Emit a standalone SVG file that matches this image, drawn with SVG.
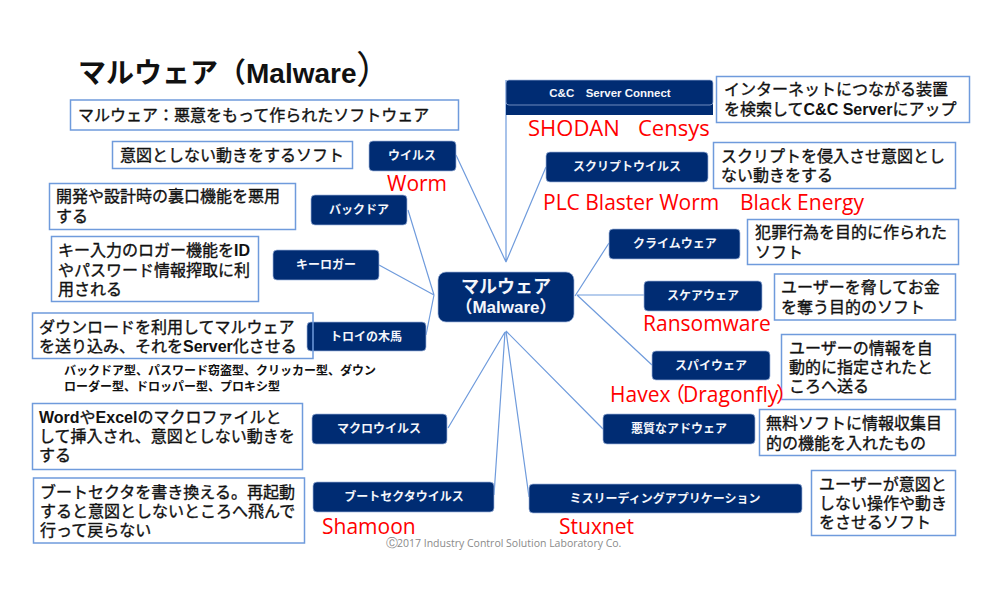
<svg xmlns="http://www.w3.org/2000/svg" width="1000" height="600" viewBox="0 0 1000 600">
<style>
text{font-family:"Liberation Sans","Noto Sans CJK JP",sans-serif}
.box{fill:#fff;stroke:#6f9bdc;stroke-width:1.5}
.t{font-size:16px;fill:#111;stroke:#111;stroke-width:.35}
.t tspan{font-weight:700;stroke:none}
.t2{font-size:12px;font-weight:700;fill:#111}
.n{fill:#002c73;stroke:#9db5dd;stroke-width:.7}
.nt{font-size:12px;font-weight:700;fill:#f4f6fb;text-anchor:middle}
.r{font-family:"Open Sans","DejaVu Sans","Noto Sans CJK JP",sans-serif;font-size:21px;fill:#f00}
.c{fill:none;stroke:#6f9bdc;stroke-width:1.2}
</style>
<rect width="1000" height="600" fill="#fff"/>
<g id="title"><text x="78" y="83" font-size="28" font-weight="700" fill="#111">マルウェア（Malware<tspan x="356" y="83" font-size="38" font-weight="400">）</tspan></text></g>
<g id="connectors">
<path class="c" d="M456 155L506 262M506 80V262M546 167L506 262"/>
<path class="c" d="M408 210L434 295M379 265L434 295M426 335L434 295"/>
<path class="c" d="M609 243L575 296M644 295H577M652 365L577 295"/>
<path class="c" d="M448 428L505 332M494 495L505 332M529 497L506 331M603 429L506 331"/>
</g>
<g id="definition"><rect class="box" x="70.500" y="100" width="388" height="30"/><text class="t" x="78" y="121">マルウェア：悪意をもって作られたソフトウェア</text></g>
<g id="center"><rect class="n" x="438" y="272" width="136" height="50" rx="8"/><text x="506" y="293" font-size="18" font-weight="700" fill="#f4f6fb" text-anchor="middle">マルウェア</text><text x="506" y="313" font-size="17" font-weight="700" fill="#f4f6fb" text-anchor="middle">（Malware）</text></g>
<g id="virus"><rect class="n" x="369" y="141" width="87" height="30" rx="4"/><text class="nt" x="412" y="160">ウイルス</text>
<rect class="box" x="112.500" y="141.500" width="240" height="27"/><text class="t" x="120" y="161">意図としない動きをするソフト</text>
<text class="r" x="387" y="191">Worm</text></g>
<g id="backdoor"><rect class="n" x="311" y="195" width="96" height="30" rx="4"/><text class="nt" x="359" y="214">バックドア</text>
<rect class="box" x="49.500" y="183.500" width="246" height="46"/><text class="t" x="56" y="202">開発や設計時の裏口機能を悪用</text><text class="t" x="56" y="222">する</text></g>
<g id="keylogger"><rect class="n" x="273" y="250" width="106" height="30" rx="4"/><text class="nt" x="326" y="269">キーロガー</text>
<rect class="box" x="51.500" y="236.500" width="207" height="65"/><text class="t" x="58" y="256">キー入力のロガー機能を<tspan>ID</tspan></text><text class="t" x="58" y="276">やパスワード情報搾取に利</text><text class="t" x="58" y="295">用される</text></g>
<g id="trojan"><rect class="n" x="307" y="322" width="119" height="29" rx="4"/><text class="nt" x="366" y="341">トロイの木馬</text>
<rect x="32.500" y="313" width="280.500" height="45.500" fill="none" stroke="#6f9bdc" stroke-width="1.500"/><text class="t" x="39" y="333">ダウンロードを利用してマルウェア</text><text class="t" x="39" y="352">を送り込み、それを<tspan>Server</tspan>化させる</text>
<text class="t2" x="64" y="375">バックドア型、パスワード窃盗型、クリッカー型、ダウン</text><text class="t2" x="64" y="391">ローダー型、ドロッパー型、プロキシ型</text></g>
<g id="macro"><rect class="n" x="312" y="414" width="135" height="30" rx="4"/><text class="nt" x="379" y="433">マクロウイルス</text>
<rect class="box" x="32.500" y="403.500" width="270" height="66"/><text class="t" x="39" y="423"><tspan>Word</tspan>や<tspan>Excel</tspan>のマクロファイルと</text><text class="t" x="39" y="442">して挿入され、意図としない動きを</text><text class="t" x="39" y="461">する</text></g>
<g id="boot"><rect class="n" x="313" y="482" width="181" height="30" rx="4"/><text class="nt" x="404" y="501">ブートセクタウイルス</text>
<rect class="box" x="33.500" y="478" width="271" height="65"/><text class="t" x="40" y="498">ブートセクタを書き換える。再起動</text><text class="t" x="40" y="517">すると意図としないところへ飛んで</text><text class="t" x="40" y="536">行って戻らない</text>
<text class="r" x="322" y="534">Shamoon</text></g>
<g id="cnc"><rect x="506" y="100" width="207" height="15" fill="#002c73"/><rect class="n" x="506" y="80" width="207" height="25" rx="3"/><text x="610" y="97" font-size="11.500" font-weight="700" fill="#f4f6fb" text-anchor="middle" xml:space="preserve">C&amp;C　Server Connect</text>
<rect class="box" x="716.500" y="76.500" width="253" height="46"/><text class="t" x="724" y="95">インターネットにつながる装置</text><text class="t" x="724" y="115">を検索して<tspan>C&amp;C Server</tspan>にアップ</text>
<text class="r" x="528" y="136" style="font-size:22px">SHODAN</text><text class="r" x="638" y="136" style="font-size:22px">Censys</text></g>
<g id="script"><rect class="n" x="546" y="152" width="162" height="30" rx="4"/><text class="nt" x="627" y="171">スクリプトウイルス</text>
<rect class="box" x="713.500" y="142.500" width="242" height="46"/><text class="t" x="721" y="162">スクリプトを侵入させ意図とし</text><text class="t" x="721" y="181">ない動きをする</text>
<text class="r" x="543" y="210">PLC Blaster Worm</text><text class="r" x="740" y="210">Black Energy</text></g>
<g id="crimeware"><rect class="n" x="609" y="229" width="131" height="30" rx="4"/><text class="nt" x="675" y="248">クライムウェア</text>
<rect class="box" x="747.500" y="219.500" width="211" height="45"/><text class="t" x="755" y="238">犯罪行為を目的に作られた</text><text class="t" x="755" y="258">ソフト</text></g>
<g id="scareware"><rect class="n" x="644" y="281" width="118" height="30" rx="4"/><text class="nt" x="703" y="300">スケアウェア</text>
<rect class="box" x="774.500" y="274" width="181" height="46"/><text class="t" x="781" y="293">ユーザーを脅してお金</text><text class="t" x="781" y="313">を奪う目的のソフト</text>
<text class="r" x="643" y="331">Ransomware</text></g>
<g id="spyware"><rect class="n" x="652" y="351" width="118" height="29" rx="4"/><text class="nt" x="711" y="370">スパイウェア</text>
<rect class="box" x="781.500" y="334.500" width="174" height="65"/><text class="t" x="789" y="354">ユーザーの情報を自</text><text class="t" x="789" y="373">動的に指定されたと</text><text class="t" x="789" y="392">ころへ送る</text>
<text class="r" x="610" y="402">Havex<tspan x="664">（</tspan><tspan x="683">Dragonfly</tspan><tspan x="776">）</tspan></text></g>
<g id="adware"><rect class="n" x="603" y="414" width="152" height="30" rx="4"/><text class="nt" x="679" y="433">悪質なアドウェア</text>
<rect class="box" x="759.500" y="409.500" width="196" height="46"/><text class="t" x="766" y="429">無料ソフトに情報収集目</text><text class="t" x="766" y="449">的の機能を入れたもの</text></g>
<g id="misleading"><rect class="n" x="529" y="484" width="273" height="29" rx="4"/><text class="nt" x="665" y="503">ミスリーディングアプリケーション</text>
<rect class="box" x="811.500" y="470.500" width="144" height="65"/><text class="t" x="819" y="490">ユーザーが意図と</text><text class="t" x="819" y="509">しない操作や動き</text><text class="t" x="819" y="528">をさせるソフト</text>
<text class="r" x="559" y="534">Stuxnet</text></g>
<g id="copyright"><text x="386" y="547" font-size="10.500" fill="#8a8a8a" style="font-family:'Open Sans',sans-serif"><tspan font-size="12">Ⓒ</tspan><tspan x="397">2017 Industry Control Solution Laboratory Co.</tspan></text></g>
</svg>
